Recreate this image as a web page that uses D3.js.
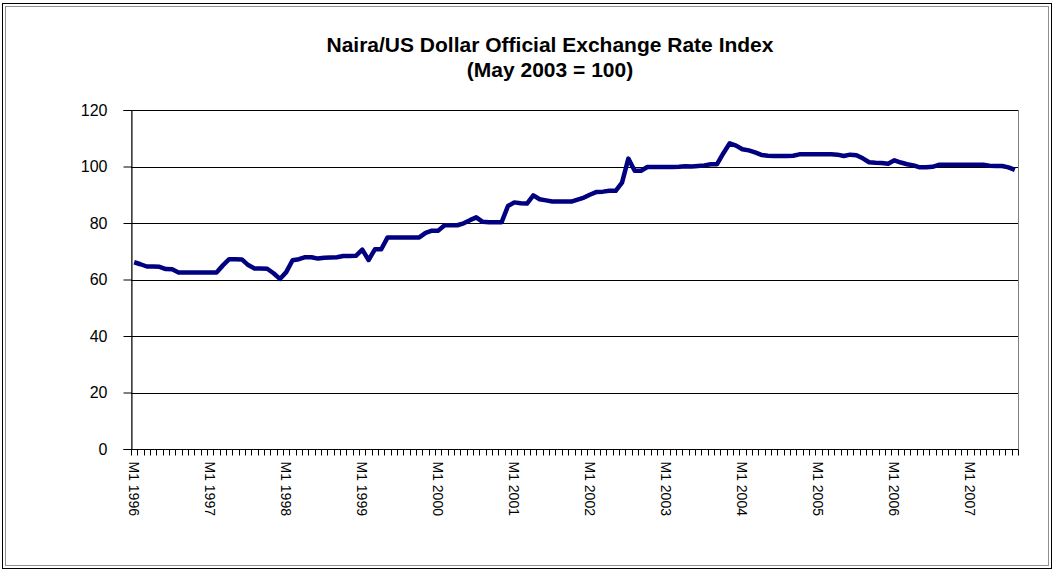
<!DOCTYPE html>
<html>
<head>
<meta charset="utf-8">
<script src="https://cdn.jsdelivr.net/npm/d3@7"></script>
<style>
  html, body { margin: 0; padding: 0; background: #fff; }
  svg { display: block; font-family: "Liberation Sans", Arial, sans-serif; }
</style>
</head>
<body>
<svg id="chart" width="1055" height="572"></svg>
<script>
// ---- data ----
const titleLines = ["Naira/US Dollar Official Exchange Rate Index", "(May 2003 = 100)"];
const years = [1996, 1997, 1998, 1999, 2000, 2001, 2002, 2003, 2004, 2005, 2006, 2007];
const monthsInLastYear = 8;
const indexValues = [
  66.1, 65.4, 64.6, 64.6, 64.5, 63.7, 63.6, 62.5, 62.5, 62.5, 62.5, 62.5,
  62.5, 62.5, 65.0, 67.2, 67.2, 67.1, 65.1, 63.9, 63.9, 63.8, 62.2, 60.2,
  62.6, 66.8, 67.2, 67.9, 67.9, 67.4, 67.7, 67.8, 67.9, 68.3, 68.3, 68.4,
  70.6, 66.9, 70.7, 70.7, 74.9, 74.9, 74.9, 74.9, 74.9, 74.9, 76.5, 77.3,
  77.3, 79.2, 79.2, 79.2, 79.9, 81.0, 82.0, 80.4, 80.3, 80.3, 80.3, 86.0,
  87.3, 87.0, 86.9, 89.8, 88.4, 88.0, 87.6, 87.6, 87.6, 87.6, 88.3, 89.0,
  90.1, 91.0, 91.1, 91.4, 91.4, 94.3, 102.8, 98.5, 98.5, 99.8, 99.8, 99.8,
  99.8, 99.8, 99.9, 100.1, 100.0, 100.2, 100.4, 100.8, 100.8, 104.7, 108.2, 107.4,
  106.1, 105.7, 105.0, 104.1, 103.8, 103.7, 103.7, 103.7, 103.8, 104.3, 104.3, 104.3,
  104.3, 104.3, 104.3, 104.2, 103.7, 104.2, 104.0, 102.9, 101.5, 101.3, 101.2, 101.0,
  102.2, 101.4, 100.8, 100.4, 99.7, 99.7, 99.9, 100.6, 100.6, 100.6, 100.6, 100.6,
  100.6, 100.6, 100.6, 100.3, 100.2, 100.2, 99.7, 98.8
];
const yTicks = [0, 20, 40, 60, 80, 100, 120];

// categories "M1 1996" ... built from years
const categories = [];
years.forEach((y, yi) => {
  const n = yi === years.length - 1 ? monthsInLastYear : 12;
  for (let m = 1; m <= n; m++) categories.push("M" + m + " " + y);
});
const tickLabels = categories.filter(c => c.startsWith("M1 "));

// ---- layout ----
const svg = d3.select("#chart");
const plot = { left: 131, right: 1018, top: 110, bottom: 449 };

// frame
svg.append("rect").attr("x", 2.5).attr("y", 3.5).attr("width", 1049).attr("height", 565)
  .attr("fill", "#fff").attr("stroke", "#000").attr("stroke-width", 1);
svg.append("rect").attr("x", 5.5).attr("y", 6.5).attr("width", 1043).attr("height", 559)
  .attr("fill", "none").attr("stroke", "#909090").attr("stroke-width", 1);

const x = d3.scaleBand().domain(categories).range([plot.left, plot.right]).padding(0);
const y = d3.scaleLinear().domain([0, 120]).range([plot.bottom, plot.top]);

// plot area border
svg.append("rect")
  .attr("x", plot.left + 0.5).attr("y", plot.top + 0.5)
  .attr("width", plot.right - plot.left).attr("height", plot.bottom - plot.top)
  .attr("fill", "none").attr("stroke", "#808080").attr("stroke-width", 1);

// gridlines
svg.append("g").selectAll("line").data(yTicks.filter(t => t > 0)).join("line")
  .attr("x1", plot.left).attr("x2", plot.right)
  .attr("y1", d => Math.round(y(d)) + 0.5).attr("y2", d => Math.round(y(d)) + 0.5)
  .attr("stroke", "#000").attr("stroke-width", 1);

// y axis
const yAxis = d3.axisLeft(y).tickValues(yTicks).tickSize(8).tickPadding(16)
  .tickFormat(d3.format("d"));
const gy = svg.append("g").attr("transform", `translate(${plot.left + 0.5},0)`).call(yAxis);
gy.select(".domain").attr("stroke", "#000");
gy.selectAll(".tick line").attr("stroke", "#000");
gy.selectAll(".tick text").attr("fill", "#000").style("font-size", "16px")
  .style("font-family", "'Liberation Sans', Arial, sans-serif");

// x axis: tick marks at every category boundary
const gx = svg.append("g").attr("transform", `translate(0,${plot.bottom + 0.5})`);
gx.append("line").attr("x1", plot.left).attr("x2", plot.right).attr("y1", 0).attr("y2", 0)
  .attr("stroke", "#000");
const boundaries = categories.map(c => x(c)).concat([plot.right]);
gx.selectAll("line.tk").data(boundaries).join("line").attr("class", "tk")
  .attr("x1", d => Math.round(d) + 0.5).attr("x2", d => Math.round(d) + 0.5)
  .attr("y1", 0).attr("y2", 6).attr("stroke", "#000");
gx.selectAll("text").data(tickLabels).join("text")
  .attr("transform", d => `translate(${x(d) + x.bandwidth() / 2 - 5},${12}) rotate(90)`)
  .attr("text-anchor", "start")
  .style("font-size", "14px")
  .attr("fill", "#000")
  .text(d => d);

// line
const line = d3.line()
  .x((d, i) => x(categories[i]) + x.bandwidth() / 2)
  .y(d => y(d));
svg.append("path").datum(indexValues)
  .attr("d", line)
  .attr("fill", "none").attr("stroke", "#000080").attr("stroke-width", 4.5)
  .attr("stroke-linejoin", "round");

// title
const title = svg.append("text").attr("text-anchor", "middle")
  .style("font-size", "21px").style("font-weight", "bold").attr("fill", "#000");
title.selectAll("tspan").data(titleLines).join("tspan")
  .attr("x", 550).attr("y", (d, i) => 52 + i * 25).text(d => d);
</script>
</body>
</html>
